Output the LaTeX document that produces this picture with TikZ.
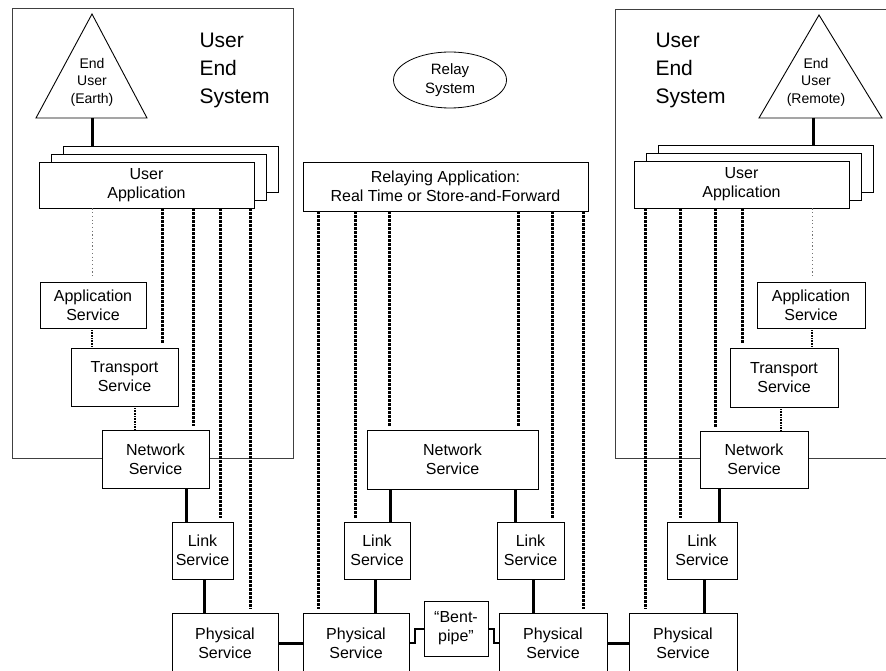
\documentclass[tikz,border=0pt]{standalone}
\usepackage{fontspec}
\setmainfont{Liberation Sans}
\usetikzlibrary{shapes.geometric,positioning,calc}

\tikzset{
  svc/.style 2 args={draw, fill=white, line width=0.9pt, minimum width=#1pt, minimum height=#2pt,
    inner sep=0pt, align=center, font=\fontsize{16}{19}\selectfont},
  sysbox/.style={draw=black!75, line width=0.8pt},
  conn/.style={line width=3pt},
  thinconn/.style={line width=1.6pt, dash pattern=on 1pt off 0.6pt},
  heavydots/.style={line width=3pt, dash pattern=on 2.4pt off 1.6pt, shorten >=4pt},
  lightdots/.style={line width=1pt, black!55, dash pattern=on 1.2pt off 2.5pt, shorten >=5pt},
  bigtext/.style={font=\fontsize{21}{28}\selectfont, align=left, anchor=west},
  eutext/.style={font=\fontsize{14}{17.5}\selectfont, align=center}
}

\begin{document}
\begin{tikzpicture}[x=1pt,y=-1pt]
    \useasboundingbox (0,0) rectangle (886,671);
    \clip (0,0) rectangle (886,671);

    % User End Systems
    \draw[sysbox] (12,8) rectangle (293,458);
    \draw[sysbox] (615,9) rectangle (900,458);
    \node[bigtext] (sysL) at (196,70) {User\\End\\System};
    \node[bigtext] (sysR) at (652,70) {User\\End\\System};

    % End users
    \draw[line width=0.9pt] (92,14) -- (147,118) -- (36,118) -- cycle;
    \node[eutext] (euL) at (92,82) {End\\User\\(Earth)};
    \coordinate (euLbase) at (92,118);
    \draw[line width=0.9pt] (819,15) -- (882,118) -- (759,118) -- cycle;
    \node[eutext] (euR) at (816,82) {End\\User\\(Remote)};
    \coordinate (euRbase) at (813,118);

    % User applications (stacked)
    \foreach \k in {2,1} {
        \node[svc={215}{46}] (uaL\k) at (146.5+12*\k, 185-8*\k) {};
        \node[svc={215}{47}] (uaR\k) at (741.5+12*\k, 184.5-8*\k) {};
    }
    \node[svc={215}{46}] (uaL) at (146.5,185) {User\\Application};
    \node[svc={215}{47}] (uaR) at (741.5,184.5) {User\\Application};
    \draw[conn] (euLbase) -- (euLbase |- uaL2.north);
    \draw[conn] (euRbase) -- (euRbase |- uaR2.north);

    % Relay system
    \node[draw, ellipse, line width=0.8pt, minimum width=113pt, minimum height=56pt, inner sep=0pt,
        align=center, font=\fontsize{15}{19}\selectfont] (relsys) at (450,80) {Relay\\System};
    \node[svc={285}{49}] (relay) at (445.5,186.5) {Relaying Application:\\Real Time or Store-and-Forward};

    % Service stacks
    \node[svc={106}{46}] (appL) at (93,305) {Application\\Service};
    \node[svc={107}{58}] (trL) at (124.5,377) {Transport\\Service};
    \node[svc={107}{58}] (netL) at (155.5,459) {Network\\Service};
    \node[svc={61}{57}] (linkL) at (202.5,550.5) {Link\\Service};
    \node[svc={106}{60}] (phyL) at (225,643) {Physical\\Service};

    \node[svc={171}{59}] (netM) at (452.5,459.5) {Network\\Service};
    \node[svc={66}{57}] (linkML) at (377,550.5) {Link\\Service};
    \node[svc={106}{60}] (phyML) at (356,643) {Physical\\Service};
    \node[svc={64}{55}] (bent) at (456,628.5) {``Bent-\\pipe''};
    \node[svc={67}{57}] (linkMR) at (530.5,550.5) {Link\\Service};
    \node[svc={108}{60}] (phyMR) at (553,643) {Physical\\Service};

    \node[svc={108}{46}] (appR) at (811,305) {Application\\Service};
    \node[svc={108}{59}] (trR) at (784,377.5) {Transport\\Service};
    \node[svc={108}{57}] (netR) at (754,459.5) {Network\\Service};
    \node[svc={70}{57}] (linkR) at (702,550.5) {Link\\Service};
    \node[svc={108}{60}] (phyR) at (683,643) {Physical\\Service};

    % Peer-to-peer (dotted)
    \draw[lightdots] (92,0 |- uaL.south) -- (92,0 |- appL.north);
    \draw[lightdots] (812,0 |- uaR.south) -- (812,0 |- appR.north);
    \foreach \x/\to in {162/trL, 193/netL, 220/linkL, 250/phyL} {
        \draw[heavydots] (\x,0 |- uaL.south) -- (\x,0 |- \to.north);
    }
    \foreach \x/\to in {318/phyML, 355/linkML, 389/netM, 518/netM, 552/linkMR, 583/phyMR} {
        \draw[heavydots] (\x,0 |- relay.south) -- (\x,0 |- \to.north);
    }
    \foreach \x/\to in {645/phyR, 680/linkR, 715/netR, 742/trR} {
        \draw[heavydots] (\x,0 |- uaR.south) -- (\x,0 |- \to.north);
    }

    % Layer interfaces
    \foreach \x/\a/\b in {92/appL/trL, 135/trL/netL, 812/appR/trR, 781/trR/netR} {
        \draw[thinconn] (\x,0 |- \a.south) -- (\x,0 |- \b.north);
    }
    \foreach \x/\a/\b in {186/netL/linkL, 204/linkL/phyL, 390/netM/linkML, 375/linkML/phyML,
                          515/netM/linkMR, 533/linkMR/phyMR, 719/netR/linkR, 704/linkR/phyR} {
        \draw[conn] (\x,0 |- \a.south) -- (\x,0 |- \b.north);
    }

    % Physical links
    \draw[conn] (phyL.east) -- (phyML.west);
    \draw[conn] (phyMR.east) -- (phyR.west);
    \draw[line width=2pt] (phyML.east) -- ++(6,0) |- (bent.west);
    \draw[line width=2pt] (bent.east) -- ++(6,0) |- (phyMR.west);
\end{tikzpicture}
\end{document}
